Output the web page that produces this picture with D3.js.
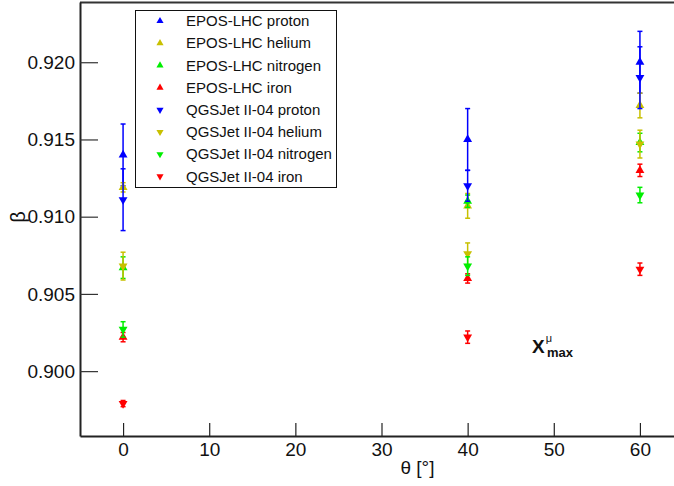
<!DOCTYPE html>
<html>
<head>
<meta charset="utf-8">
<script src="https://cdn.jsdelivr.net/npm/d3@7"></script>
<style>
  html, body { margin: 0; padding: 0; background: #fff; }
  svg { display: block; font-family: "Liberation Sans", Arial, Helvetica, sans-serif; }
</style>
</head>
<body>
<svg id="chart" width="674" height="486"></svg>
<script>
// ---- data ----
const angles = [0, 40, 60];
const xTicks = [0, 10, 20, 30, 40, 50, 60];
const yTicks = [0.900, 0.905, 0.910, 0.915, 0.920];
const seriesNames = ["EPOS-LHC proton", "EPOS-LHC helium", "EPOS-LHC nitrogen", "EPOS-LHC iron",
                     "QGSJet II-04 proton", "QGSJet II-04 helium", "QGSJet II-04 nitrogen", "QGSJet II-04 iron"];
const eposProton    = [0.9140, 0.9150, 0.9200];
const eposProtonErr = [0.0020, 0.0020, 0.0020];
const eposHelium    = [0.9119, 0.9107, 0.9172];
const eposHeliumErr = [0.0003, 0.0008, 0.0008];
const eposNitrogen    = [0.9067, 0.9110, 0.9148];
const eposNitrogenErr = [0.0007, 0.0004, 0.0006];
const eposIron    = [0.9022, 0.9060, 0.9130];
const eposIronErr = [0.0003, 0.0003, 0.0004];
const qgsProton    = [0.9111, 0.9120, 0.9190];
const qgsProtonErr = [0.0020, 0.0010, 0.0020];
const qgsHelium    = [0.9068, 0.9076, 0.9147];
const qgsHeliumErr = [0.0009, 0.0007, 0.0009];
const qgsNitrogen    = [0.9027, 0.9068, 0.9114];
const qgsNitrogenErr = [0.0005, 0.0006, 0.0005];
const qgsIron    = [0.8979, 0.9022, 0.9066];
const qgsIronErr = [0.0002, 0.0004, 0.0004];

const colors = ["#0000ff", "#c8c000", "#00ee00", "#ff0000"];
const series = [
  {name: seriesNames[0], v: eposProton,   e: eposProtonErr,   c: colors[0], up: true},
  {name: seriesNames[1], v: eposHelium,   e: eposHeliumErr,   c: colors[1], up: true},
  {name: seriesNames[2], v: eposNitrogen, e: eposNitrogenErr, c: colors[2], up: true},
  {name: seriesNames[3], v: eposIron,     e: eposIronErr,     c: colors[3], up: true},
  {name: seriesNames[4], v: qgsProton,    e: qgsProtonErr,    c: colors[0], up: false},
  {name: seriesNames[5], v: qgsHelium,    e: qgsHeliumErr,    c: colors[1], up: false},
  {name: seriesNames[6], v: qgsNitrogen,  e: qgsNitrogenErr,  c: colors[2], up: false},
  {name: seriesNames[7], v: qgsIron,      e: qgsIronErr,      c: colors[3], up: false}
];

// ---- layout ----
const svg = d3.select("#chart");
const L = 80, R = 683, T = 2, B = 436;
const x = d3.scaleLinear().domain([-5, 65]).range([L, R]);
const y = d3.scaleLinear().domain([0.8958, 0.9239]).range([B, T]);

// frame line (top border)
svg.append("line").attr("x1", L).attr("x2", R).attr("y1", T + 0.5).attr("y2", T + 0.5)
  .attr("stroke", "#333").attr("stroke-width", 2);

// x axis (ticks inward)
const xAxis = svg.append("g").attr("transform", `translate(0,${B})`)
  .call(d3.axisBottom(x).tickValues(xTicks).tickSizeInner(-13).tickSizeOuter(0).tickPadding(7).tickFormat(d3.format("d")));
xAxis.select(".domain").attr("stroke", "#222").attr("stroke-width", 2);
xAxis.selectAll(".tick line").attr("stroke", "#222").attr("stroke-width", 1.2);
xAxis.selectAll("text").attr("font-size", 19).attr("fill", "#111").attr("font-family", "Liberation Sans, Arial, sans-serif");

// y axis (ticks inward)
const yAxis = svg.append("g").attr("transform", `translate(${L},0)`)
  .call(d3.axisLeft(y).tickValues(yTicks).tickSizeInner(-18).tickSizeOuter(0).tickPadding(5).tickFormat(d3.format(".3f")));
yAxis.select(".domain").attr("stroke", "#222").attr("stroke-width", 2);
yAxis.selectAll(".tick line").attr("stroke", "#333").attr("stroke-width", 1.2);
yAxis.selectAll("text").attr("font-size", 19).attr("fill", "#111").attr("font-family", "Liberation Sans, Arial, sans-serif");

// axis titles
svg.append("text").attr("x", x(30) + 36).attr("y", 474).attr("text-anchor", "middle")
  .attr("font-size", 19).attr("fill", "#111").text("θ [°]");
svg.append("text").attr("transform", "translate(25,217) rotate(-90)").attr("text-anchor", "middle")
  .attr("font-size", 20).attr("fill", "#111").text("β");

// ---- data points ----
const triUp = d3.symbol().type(d3.symbolTriangle).size(34);
const plot = svg.append("g");
series.forEach(s => {
  const g = plot.append("g");
  const pts = angles.map((a, i) => ({a, v: s.v[i], e: s.e[i]}));
  // error bars
  g.selectAll("line.err").data(pts).join("line").attr("class", "err")
    .attr("x1", d => x(d.a)).attr("x2", d => x(d.a))
    .attr("y1", d => y(d.v - d.e)).attr("y2", d => y(d.v + d.e))
    .attr("stroke", s.c).attr("stroke-width", 1.5);
  g.selectAll("line.capT").data(pts).join("line").attr("class", "capT")
    .attr("x1", d => x(d.a) - 2.5).attr("x2", d => x(d.a) + 2.5)
    .attr("y1", d => y(d.v + d.e)).attr("y2", d => y(d.v + d.e))
    .attr("stroke", s.c).attr("stroke-width", 1.5);
  g.selectAll("line.capB").data(pts).join("line").attr("class", "capB")
    .attr("x1", d => x(d.a) - 2.5).attr("x2", d => x(d.a) + 2.5)
    .attr("y1", d => y(d.v - d.e)).attr("y2", d => y(d.v - d.e))
    .attr("stroke", s.c).attr("stroke-width", 1.5);
  g.selectAll("path").data(pts).join("path")
    .attr("d", triUp)
    .attr("transform", d => `translate(${x(d.a)},${y(d.v)})` + (s.up ? "" : " rotate(180)"))
    .attr("fill", s.c);
});

// ---- legend ----
const lg = svg.append("g");
lg.append("rect").attr("x", 135.5).attr("y", 10.5).attr("width", 201).attr("height", 177)
  .attr("fill", "#fff").attr("stroke", "#111").attr("stroke-width", 1);
const triSmall = d3.symbol().type(d3.symbolTriangle).size(22);
series.forEach((s, i) => {
  const yy = 21 + i * 22.2;
  lg.append("path").attr("d", triSmall)
    .attr("transform", `translate(160,${yy})` + (s.up ? "" : " rotate(180)"))
    .attr("fill", s.c);
  lg.append("text").attr("x", 186).attr("y", yy).attr("dy", "0.35em")
    .attr("font-size", 15).attr("fill", "#111").text(s.name);
});

// ---- X^mu_max annotation ----
const ann = svg.append("text").attr("x", 532).attr("y", 353).attr("font-weight", "bold").attr("fill", "#111");
ann.append("tspan").attr("font-size", 19).text("X");
ann.append("tspan").attr("font-size", 11).attr("font-weight", "normal").attr("dy", -11).attr("dx", 1).text("μ");
ann.append("tspan").attr("font-size", 13).attr("x", 547).attr("dy", 15).text("max");
</script>
</body>
</html>
